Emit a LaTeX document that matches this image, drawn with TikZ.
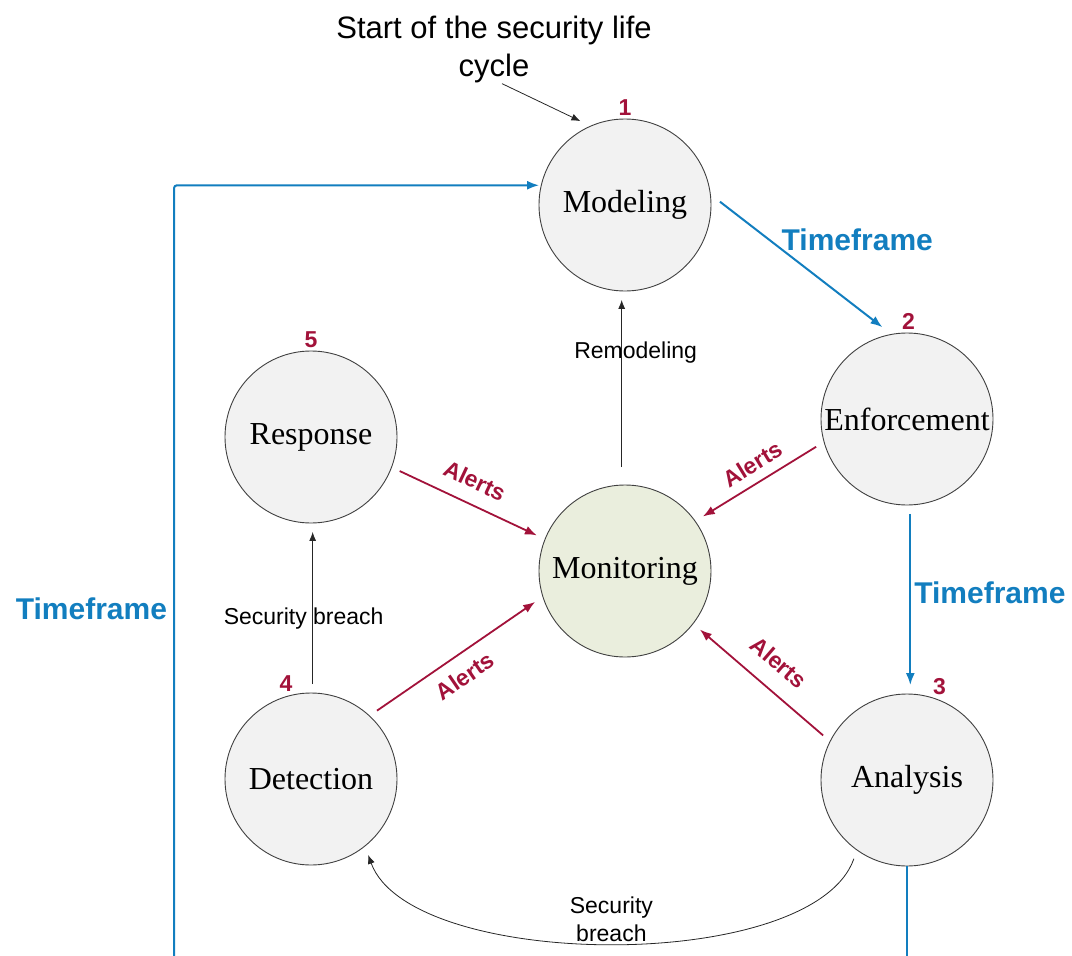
\documentclass[tikz,border=0pt]{standalone}
\usepackage{xcolor}
\usepackage{fontspec}
\setmainfont{Liberation Serif}
\setsansfont{Liberation Sans}
\usepackage{tikz}
\usetikzlibrary{arrows.meta, positioning}

\definecolor{tfblue}{RGB}{18,126,191}
\definecolor{alertred}{RGB}{162,18,58}
\definecolor{stagegray}{RGB}{242,242,242}
\definecolor{mongreen}{RGB}{234,238,221}

\begin{document}
\begin{tikzpicture}[x=1pt, y=-1pt,
            stage/.style={circle,draw=black!75,fill=stagegray,line width=0.9pt,minimum size=172pt,inner sep=0pt,outer sep=9pt,font=\fontsize{32}{32}\selectfont},
            num/.style={font=\sffamily\bfseries\fontsize{23}{23}\selectfont,text=alertred,inner sep=0pt,label distance=-6pt},
            timeline/.style={draw=tfblue,line width=2pt,-{Latex[length=12pt,width=9pt]}},
            tflabel/.style={font=\sffamily\bfseries\fontsize{30}{30}\selectfont,text=tfblue,inner sep=2pt},
            alert/.style={draw=alertred,line width=1.8pt,-{Latex[length=12pt,width=9pt]}},
            alertlabel/.style={font=\sffamily\bfseries\fontsize{23}{23}\selectfont,text=alertred,inner sep=2pt,sloped},
            thinarrow/.style={draw=black!85,line width=0.8pt,-{Latex[length=9pt,width=7pt]}},
            note/.style={font=\sffamily\fontsize{23}{28}\selectfont,inner sep=1pt,align=center}
        ]
            \useasboundingbox (0,0) rectangle (1072,956);

            % Stages
            \foreach \nm/\x/\y/\n/\ang in {Modeling/625/205/1/90, Enforcement/907/419/2/89,
                    Analysis/907/780/3/73, Detection/311/779/4/102, Response/311/437/5/90}
                \node[stage,label={[num]\ang:\n}] (\nm) at (\x,\y) {\nm};

            \node[stage,fill=mongreen] (Monitoring) at (625,571) {Monitoring};

            % Start
            \node[note,font=\sffamily\fontsize{31}{38}\selectfont] (Start) at (494,49) {Start of the security life\\cycle};
            \draw[thinarrow] ([xshift=8pt]Start.south) -- (Modeling.118);

            % Timeframes
            \coordinate (LoopIn) at (174,956);
            \coordinate (LoopOut) at (907,956);
            \draw[timeline] (Modeling.2) -- (Enforcement.105)
                node[tflabel,pos=.3,right=10pt] {Timeframe};
            \draw[timeline] (Enforcement.-88) -- (Analysis.88)
                node[tflabel,pos=.46,right=1pt] {Timeframe};
            \draw[draw=tfblue,line width=2pt,shorten <=-9pt] (Analysis.south) -- (LoopOut);
            \draw[timeline,rounded corners=3pt,shorten >=-7pt] (LoopIn) |- (Modeling.168)
                node[tflabel,pos=.225,left=4pt] {Timeframe};

            % Alerts
            \draw[alert] (Response.-21) -- (Monitoring.158)
                node[alertlabel,pos=.475,above=12pt] {Alerts};
            \draw[alert] (Enforcement.197.5) -- (Monitoring.35)
                node[alertlabel,pos=.475,above=7pt] {Alerts};
            \draw[alert] (Analysis.152) -- (Monitoring.-38.6)
                node[alertlabel,pos=.5,above=15pt] {Alerts};
            \draw[alert] (Detection.46.6) -- (Monitoring.199)
                node[alertlabel,pos=.48,below=10pt] {Alerts};

            % Breaches and remodeling
            \draw[thinarrow,shorten <=9pt] (Monitoring.92) -- (Modeling.-92)
                node[note,pos=.7,xshift=14pt] {Remodeling};
            \draw[thinarrow] (Detection.89) -- (Response.-89)
                node[note,pos=.43,xshift=-9pt] {Security breach};
            \draw[thinarrow] (Analysis.-124) .. controls +(-41,116) and +(42,116) .. (Detection.-53)
                node[note,pos=.5,above=1pt] {Security\\breach};
        \end{tikzpicture}
\end{document}
